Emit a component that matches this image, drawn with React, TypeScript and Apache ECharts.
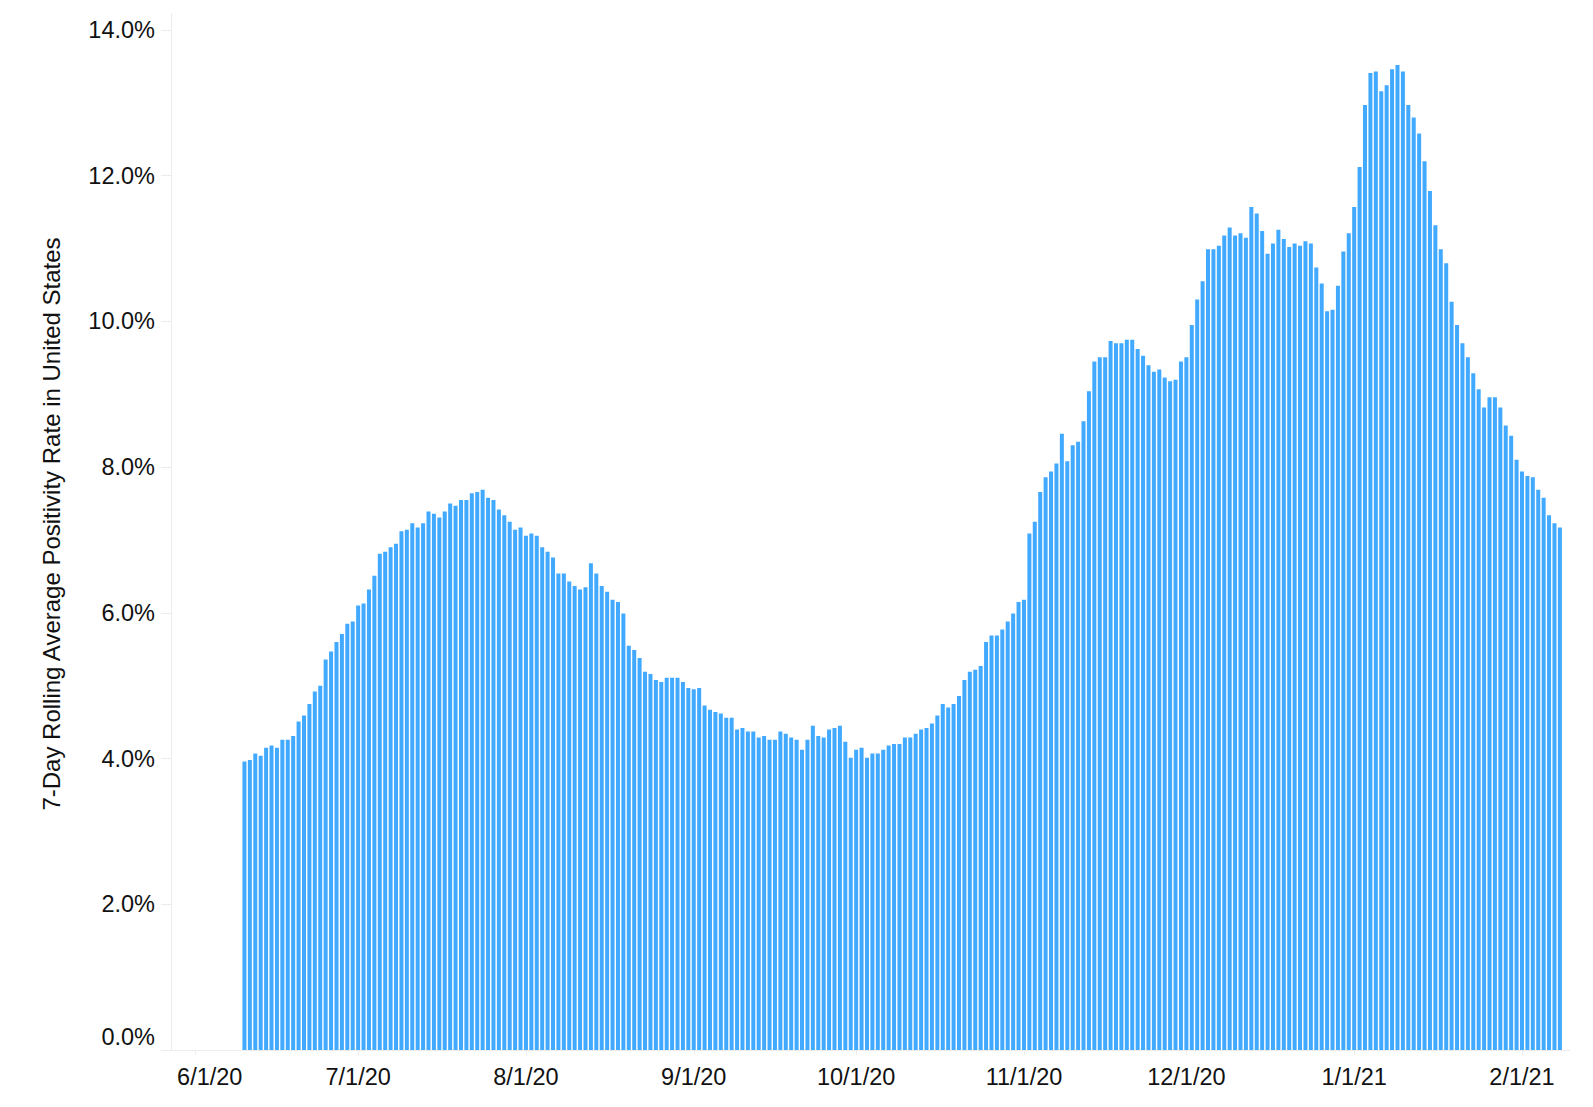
import React, { useEffect, useRef } from "react";
import * as echarts from "echarts";

const DAY = 86400000;
const firstBarDate = Date.UTC(2020, 5, 10);

const positivityRate: number[] = [
  3.96, 3.98, 4.07, 4.04, 4.15, 4.18, 4.15, 4.26, 4.26, 4.31,
  4.51, 4.59, 4.75, 4.92, 5.0, 5.36, 5.47, 5.6, 5.71, 5.85,
  5.88, 6.1, 6.13, 6.32, 6.51,
  6.81, 6.84, 6.9, 6.95,
  7.12, 7.14, 7.23, 7.17, 7.23, 7.39, 7.36, 7.31, 7.39, 7.5,
  7.47, 7.55, 7.55, 7.64, 7.66, 7.69, 7.58, 7.55, 7.42, 7.34,
  7.25, 7.14, 7.17, 7.06, 7.09, 7.06, 6.9, 6.84, 6.76, 6.54, 6.54,
  6.43, 6.37, 6.32, 6.35, 6.68, 6.54, 6.37, 6.29, 6.18, 6.15,
  5.99, 5.55, 5.49, 5.38, 5.19, 5.16, 5.08, 5.05, 5.11, 5.11,
  5.11, 5.05, 4.97, 4.95, 4.97, 4.73, 4.67, 4.64, 4.62, 4.56, 4.56,
  4.4, 4.42, 4.37, 4.37, 4.29, 4.31, 4.26, 4.26, 4.37, 4.34,
  4.29, 4.26, 4.12, 4.26, 4.45, 4.31, 4.29, 4.4, 4.42, 4.45,
  4.23, 4.01, 4.12, 4.15, 4.01, 4.07, 4.07, 4.12, 4.18, 4.2,
  4.2, 4.29, 4.29, 4.34, 4.4, 4.42, 4.48, 4.59, 4.75, 4.7,
  4.75, 4.86, 5.08, 5.19, 5.22, 5.27, 5.6, 5.69, 5.69, 5.77,
  5.88, 5.99, 6.15, 6.18, 7.09, 7.25, 7.66, 7.86, 7.94, 8.05,
  8.46, 8.08, 8.3, 8.35, 8.63, 9.04,
  9.45, 9.51, 9.51, 9.73, 9.7, 9.7, 9.75, 9.75, 9.62, 9.53,
  9.4, 9.31, 9.34, 9.23, 9.18, 9.2, 9.45, 9.51, 9.95, 10.3,
  10.55, 10.99, 10.99, 11.04, 11.18,
  11.29, 11.18, 11.21, 11.15, 11.57, 11.48, 11.24, 10.93, 11.07, 11.26,
  11.13, 11.02, 11.07, 11.04, 11.1, 11.07, 10.74, 10.52, 10.14, 10.16,
  10.49, 10.96, 11.21, 11.57, 12.12, 12.97, 13.41, 13.43, 13.16, 13.24,
  13.46, 13.52, 13.43, 12.97, 12.8, 12.58, 12.2, 11.79, 11.32, 10.99,
  10.8, 10.27, 9.95, 9.7, 9.51, 9.29, 9.07, 8.82, 8.96, 8.96,
  8.82, 8.57, 8.43, 8.1, 7.94, 7.88, 7.86, 7.69, 7.58, 7.34,
  7.23, 7.17,
];

const dates: number[] = positivityRate.map((_, i) => firstBarDate + i * DAY);

const yAxisTitle = "7-Day Rolling Average Positivity Rate in United States";

const FONT = "Arial, 'Liberation Sans', sans-serif";
const LABEL_SIZE = 23.5;

export default function App() {
  const ref = useRef<HTMLDivElement>(null);

  useEffect(() => {
    if (!ref.current) return;
    const chart = echarts.init(ref.current, undefined, { renderer: "svg" });
    const xMin = Date.UTC(2020, 5, 1) - 4.2 * DAY;
    const xMax = Date.UTC(2020, 5, 1) + 253.5 * DAY;
    const axisGray = "#ececec";

    chart.setOption({
      animation: false,
      useUTC: true,
      backgroundColor: "#ffffff",
      grid: { left: 171, right: 23, top: 30, bottom: 57, containLabel: false },
      xAxis: {
        type: "time",
        min: xMin,
        max: xMax,
        minInterval: 30 * DAY,
        maxInterval: 31 * DAY,
        axisLine: { show: true, lineStyle: { color: axisGray, width: 1 } },
        axisTick: { show: true, length: 5, lineStyle: { color: axisGray } },
        splitLine: { show: false },
        axisLabel: {
          margin: 15,
          color: "#111",
          fontFamily: FONT,
          fontSize: LABEL_SIZE,
          formatter: (v: number) => {
            const d = new Date(v);
            if (d.getUTCDate() !== 1 || d.getUTCHours() !== 0) return "";
            const s = `${d.getUTCMonth() + 1}/1/${String(d.getUTCFullYear()).slice(2)}`;
            if (d.getUTCFullYear() === 2020 && d.getUTCMonth() === 5) return `{first|${s}}`;
            return s;
          },
          rich: {
            first: { padding: [0, 0, 0, 28], fontFamily: FONT, fontSize: LABEL_SIZE, color: "#111" },
          },
        },
      },
      yAxis: {
        type: "value",
        min: 0,
        max: 14,
        interval: 2,
        axisLine: { show: true, lineStyle: { color: axisGray, width: 1 } },
        axisTick: { show: true, length: 10, lineStyle: { color: axisGray } },
        splitLine: { show: false },
        axisLabel: {
          margin: 16,
          color: "#111",
          fontFamily: FONT,
          fontSize: LABEL_SIZE,
          formatter: (v: number) => (v === 0 ? `{zero|0.0%}` : `${v.toFixed(1)}%`),
          rich: {
            zero: { padding: [0, 0, 26, 0], fontFamily: FONT, fontSize: LABEL_SIZE, color: "#111" },
          },
        },
      },
      graphic: [
        {
          type: "line",
          shape: { x1: 171.5, y1: 13, x2: 171.5, y2: 30 },
          style: { stroke: axisGray, lineWidth: 1 },
        },
        {
          type: "text",
          x: 51,
          y: 524,
          rotation: Math.PI / 2,
          style: {
            text: yAxisTitle,
            font: `24px ${FONT}`,
            fill: "#111",
            align: "center",
            verticalAlign: "middle",
            textAlign: "center",
            textVerticalAlign: "middle",
          },
        },
      ],
      series: [
        {
          type: "bar",
          barWidth: 4,
          itemStyle: { color: "#41a9ff" },
          data: dates.map((d, i) => [d, positivityRate[i]]),
        },
      ],
    });

    return () => chart.dispose();
  }, []);

  return (
    <div
      ref={ref}
      style={{ position: "absolute", left: 0, top: 0, width: 1593, height: 1107 }}
    />
  );
}
